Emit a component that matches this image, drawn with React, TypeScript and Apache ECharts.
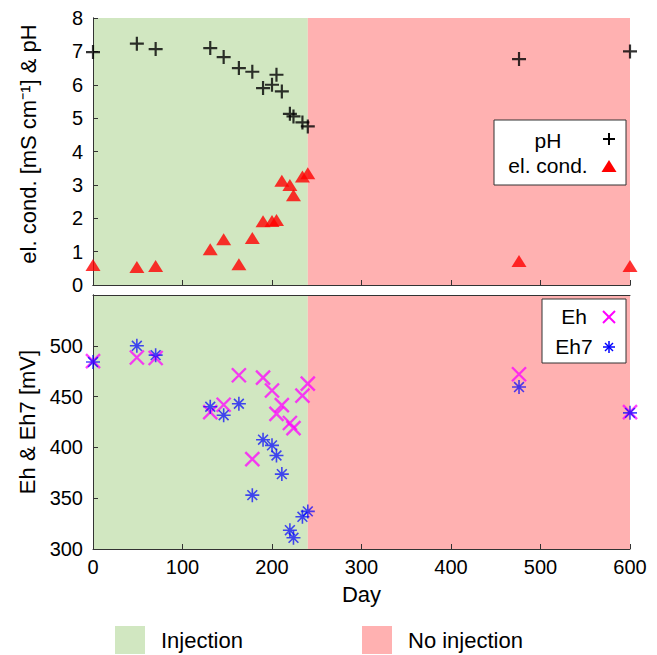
import React, { useEffect, useRef } from "react";
import * as echarts from "echarts";

const days = [0, 49, 70, 131, 146, 163, 178, 190, 200, 205, 211, 220, 224, 234, 240, 476, 600];
const pH = [6.98, 7.23, 7.07, 7.1, 6.83, 6.5, 6.39, 5.9, 6.0, 6.3, 5.8, 5.13, 5.05, 4.87, 4.75, 6.77, 7.0];
const elCond = [0.6, 0.54, 0.57, 1.07, 1.37, 0.62, 1.41, 1.91, 1.92, 1.95, 3.12, 3.0, 2.69, 3.25, 3.35, 0.72, 0.57];
const eh = [485, 488.5, 488, 434.7, 442, 471, 388.5, 468.7, 456, 433, 441.6, 424, 419, 451, 462.8, 472, 434.7];
const eh7 = [484, 500, 490.8, 440, 431.7, 443, 353, 407.6, 402, 392, 373.7, 318.5, 311, 331.7, 337, 459.4, 434];

const phases = [
  { name: "Injection", from: 0, to: 240, color: "#d1e7c1" },
  { name: "No injection", from: 240, to: 600, color: "#ffb1b1" },
];

const FONT = "'Liberation Sans', Arial, sans-serif";
const PLUS = "path://M0,5L10,5M5,0L5,10";
const CROSS = "path://M0,0L10,10M10,0L0,10";
const STAR = "path://M5,0L5,10M0,5L10,5M1.5,1.5L8.5,8.5M8.5,1.5L1.5,8.5";

const pairs = (ys: number[]) => days.map((d, i) => [d, ys[i]]);

export default function App() {
  const ref = useRef<HTMLDivElement>(null);
  useEffect(() => {
    const chart = echarts.init(ref.current!, null, { renderer: "svg" });
    const axisLine = { show: true, lineStyle: { color: "#333", width: 1 } };
    const tick = { show: true, inside: true, length: 5, lineStyle: { color: "#333" } };
    const label = { fontSize: 20, color: "#000", fontFamily: FONT };
    const nameStyle = { fontSize: 22, color: "#000", fontFamily: FONT };

    const xBase = (gi: number, showLabel: boolean) => ({
      type: "value",
      gridIndex: gi,
      min: 0,
      max: 600,
      interval: 100,
      z: 5,
      axisLine,
      axisTick: tick,
      splitLine: { show: false },
      axisLabel: { ...label, show: showLabel, margin: 8 },
    });
    const mirrorX = (gi: number) => ({
      type: "value", gridIndex: gi, position: "top", min: 0, max: 600, z: 5,
      axisLine, axisTick: { show: false }, axisLabel: { show: false }, splitLine: { show: false },
    });
    const mirrorY = (gi: number, min: number, max: number) => ({
      type: "value", gridIndex: gi, position: "right", min, max, z: 5,
      axisLine, axisTick: { show: false }, axisLabel: { show: false }, splitLine: { show: false },
    });

    const bg = (gi: number) => ({
      type: "scatter",
      xAxisIndex: gi * 2,
      yAxisIndex: gi * 2,
      data: [],
      z: 1,
      silent: true,
      markArea: {
        silent: true,
        data: phases.map((p) => [
          { xAxis: p.from, itemStyle: { color: p.color, opacity: 1 } },
          { xAxis: p.to },
        ]),
      },
    });

    const option: any = {
      animation: false,
      textStyle: { fontFamily: FONT },
      grid: [
        { left: 93, top: 18, width: 537, height: 267 },
        { left: 93, top: 295, width: 537, height: 254 },
      ],
      xAxis: [
        xBase(0, false),
        mirrorX(0),
        {
          ...xBase(1, true),
          name: "Day",
          nameLocation: "middle",
          nameGap: 34,
          nameTextStyle: nameStyle,
        },
        mirrorX(1),
      ],
      yAxis: [
        {
          type: "value", gridIndex: 0, min: 0, max: 8, interval: 1, z: 5,
          axisLine, axisTick: tick, splitLine: { show: false },
          axisLabel: { ...label, margin: 10 },
          name: "el. cond. [mS cm⁻¹] & pH",
          nameLocation: "middle",
          nameGap: 54,
          nameTextStyle: { ...nameStyle, padding: [0, 0, 0, 15] },
        },
        mirrorY(0, 0, 8),
        {
          type: "value", gridIndex: 1, min: 300, max: 550, interval: 50, z: 5,
          axisLine, axisTick: tick, splitLine: { show: false },
          axisLabel: { ...label, margin: 10, showMaxLabel: false },
          name: "Eh & Eh7 [mV]",
          nameLocation: "middle",
          nameGap: 54,
          nameTextStyle: nameStyle,
        },
        mirrorY(1, 300, 550),
      ],
      series: [
        bg(0),
        bg(1),
        {
          name: "pH", type: "scatter", xAxisIndex: 0, yAxisIndex: 0, z: 10, clip: false,
          symbol: PLUS, symbolSize: 14,
          itemStyle: { color: "transparent", borderColor: "#000", borderWidth: 2.2 },
          data: pairs(pH),
        },
        {
          name: "el. cond.", type: "scatter", xAxisIndex: 0, yAxisIndex: 0, z: 10, clip: false,
          symbol: "triangle", symbolSize: [15, 12],
          itemStyle: { color: "#ff0000" },
          data: pairs(elCond),
        },
        {
          name: "Eh", type: "scatter", xAxisIndex: 2, yAxisIndex: 2, z: 10, clip: false,
          symbol: CROSS, symbolSize: 14,
          itemStyle: { color: "transparent", borderColor: "#ff00ff", borderWidth: 2.4, opacity: 0.75 },
          data: pairs(eh),
        },
        {
          name: "Eh7", type: "scatter", xAxisIndex: 2, yAxisIndex: 2, z: 10, clip: false,
          symbol: STAR, symbolSize: 14,
          itemStyle: { color: "transparent", borderColor: "#0000ff", borderWidth: 1.6, opacity: 0.7 },
          data: pairs(eh7),
        },
      ],
      graphic: [
        // top legend
        { type: "rect", shape: { x: 494, y: 120, width: 132, height: 65 }, style: { fill: "#fff", stroke: "#333", lineWidth: 1 }, z: 20 },
        { type: "text", x: 548, y: 140, style: { text: "pH", font: `21px ${FONT}`, fill: "#000", align: "center", verticalAlign: "middle" }, z: 21 },
        { type: "line", shape: { x1: 603, y1: 139, x2: 615, y2: 139 }, style: { stroke: "#000", lineWidth: 2 }, z: 21 },
        { type: "line", shape: { x1: 609, y1: 133, x2: 609, y2: 145 }, style: { stroke: "#000", lineWidth: 2 }, z: 21 },
        { type: "text", x: 548, y: 165, style: { text: "el. cond.", font: `21px ${FONT}`, fill: "#000", align: "center", verticalAlign: "middle" }, z: 21 },
        { type: "polygon", shape: { points: [[609, 160], [616.5, 172], [601.5, 172]] }, style: { fill: "#ff0000" }, z: 21 },
        // bottom legend
        { type: "rect", shape: { x: 542, y: 299, width: 84, height: 64 }, style: { fill: "#fff", stroke: "#333", lineWidth: 1 }, z: 20 },
        { type: "text", x: 574, y: 316, style: { text: "Eh", font: `21px ${FONT}`, fill: "#000", align: "center", verticalAlign: "middle" }, z: 21 },
        { type: "line", shape: { x1: 603, y1: 311, x2: 615, y2: 323 }, style: { stroke: "#ff00ff", lineWidth: 2 }, z: 21 },
        { type: "line", shape: { x1: 615, y1: 311, x2: 603, y2: 323 }, style: { stroke: "#ff00ff", lineWidth: 2 }, z: 21 },
        { type: "text", x: 574, y: 346, style: { text: "Eh7", font: `21px ${FONT}`, fill: "#000", align: "center", verticalAlign: "middle" }, z: 21 },
        { type: "line", shape: { x1: 609, y1: 341, x2: 609, y2: 353 }, style: { stroke: "#0000ff", lineWidth: 1.5 }, z: 21 },
        { type: "line", shape: { x1: 603, y1: 347, x2: 615, y2: 347 }, style: { stroke: "#0000ff", lineWidth: 1.5 }, z: 21 },
        { type: "line", shape: { x1: 605, y1: 343, x2: 613, y2: 351 }, style: { stroke: "#0000ff", lineWidth: 1.5 }, z: 21 },
        { type: "line", shape: { x1: 613, y1: 343, x2: 605, y2: 351 }, style: { stroke: "#0000ff", lineWidth: 1.5 }, z: 21 },
        // phase legend
        { type: "rect", shape: { x: 115, y: 626, width: 30, height: 28 }, style: { fill: phases[0].color } },
        { type: "text", x: 161, y: 640, style: { text: phases[0].name, font: `22px ${FONT}`, fill: "#000", align: "left", verticalAlign: "middle" } },
        { type: "rect", shape: { x: 362, y: 626, width: 30, height: 28 }, style: { fill: phases[1].color } },
        { type: "text", x: 408, y: 640, style: { text: phases[1].name, font: `22px ${FONT}`, fill: "#000", align: "left", verticalAlign: "middle" } },
      ],
    };
    chart.setOption(option);
    return () => chart.dispose();
  }, []);
  return (
    <div
      ref={ref}
      style={{ position: "fixed", left: 0, top: 0, width: 657, height: 655, background: "#fff" }}
    />
  );
}
